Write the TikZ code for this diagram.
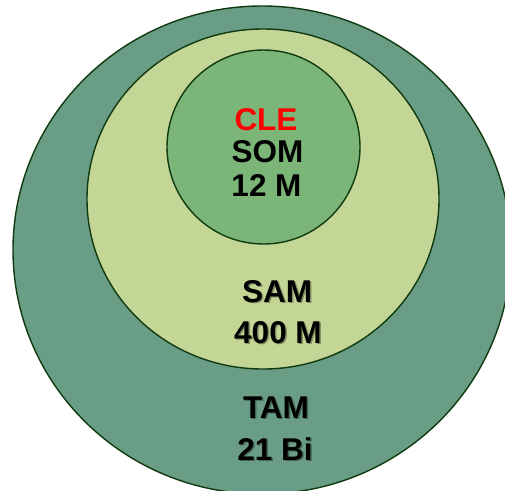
\documentclass[tikz,border=0pt]{standalone}
\usepackage{fontspec}
\setmainfont{Liberation Sans}
\definecolor{tamfill}{RGB}{106,157,133}
\definecolor{samfill}{RGB}{196,214,150}
\definecolor{somfill}{RGB}{123,181,119}
\definecolor{ringline}{RGB}{16,58,16}
\definecolor{clered}{RGB}{255,0,0}
\tikzset{
  ring/.style={draw=ringline, line width=1.4pt},
  label/.style={font=\bfseries\fontsize{31.5}{31.5}\selectfont, inner sep=0pt, anchor=base},
  shadowtext/.style={label, text=black, opacity=0.35},
}
\begin{document}
\begin{tikzpicture}[x=1pt,y=-1pt]
  \useasboundingbox (0,0) rectangle (505,490);
  \fill[white] (0,0) rectangle (505,490);
  \begin{scope}
    \clip (0,0) rectangle (505,490);
    % total market
    \path[ring, fill=tamfill] (262,250) ellipse [x radius=249pt, y radius=244pt];
    % serviceable available market
    \path[ring, fill=samfill] (263,199) ellipse [x radius=176pt, y radius=170pt];
    % serviceable obtainable market
    \path[ring, fill=somfill] (263.5,147) ellipse [x radius=96.5pt, y radius=97pt];
  \end{scope}

  % inner circle labels
  \node[label, text=clered] (cle) at (266,130) {CLE};
  \node[label] (som) at (267.5,162.5) {SOM};
  \node[label] (somv) at (266.5,196) {12 M};

  % soft shadows under the outer labels
  \node[shadowtext] (samsh) at (278.5,303.5) {SAM};
  \node[shadowtext] (samvsh) at (279.5,344.5) {400 M};
  \node[shadowtext] (tamsh) at (277.5,419.5) {TAM};
  \node[shadowtext] (tamvsh) at (276.5,461.5) {21 Bi};

  \node[label] (sam) at (277,302) {SAM};
  \node[label] (samv) at (278,343) {400 M};
  \node[label] (tam) at (276,418) {TAM};
  \node[label] (tamv) at (275,460) {21 Bi};
\end{tikzpicture}
\end{document}
